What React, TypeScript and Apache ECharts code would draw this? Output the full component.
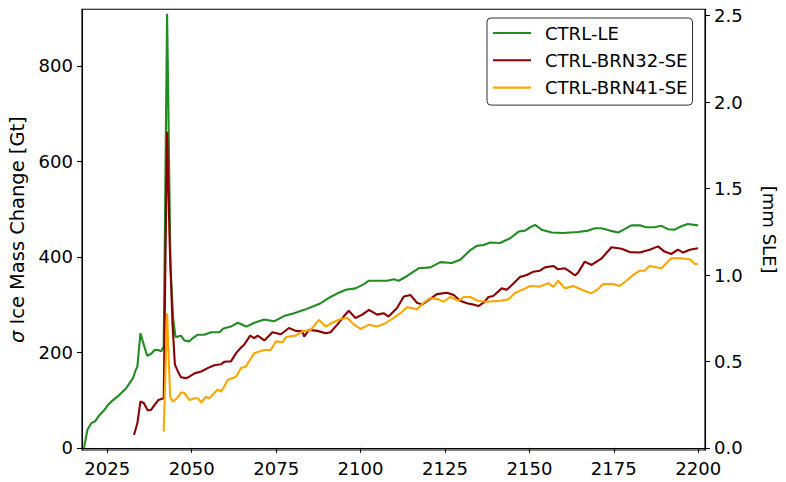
import React, { useEffect, useRef } from "react";
import * as echarts from "echarts";

// ---- data ----
const seriesNames = ["CTRL-LE", "CTRL-BRN32-SE", "CTRL-BRN41-SE"];
const seriesColors = ["#228B22", "#8B0000", "#FFA500"];

const leYears = [2018.1, 2019.1, 2020.3, 2021.3, 2022.7, 2024.2, 2025.2, 2026.7, 2028.6, 2030.6, 2032.6, 2033.4, 2033.9, 2034.8, 2035.5, 2036.8, 2038, 2039, 2040.1, 2040.9, 2041.7, 2042.7, 2043.7, 2044.5, 2045.2, 2045.9, 2046.8, 2047.8, 2049.3, 2050.3, 2051.8, 2053.7, 2055.7, 2058.2, 2059.4, 2061.6, 2063.6, 2066.2, 2068.5, 2071.5, 2074.4, 2077.3, 2080.3, 2083.3, 2086.2, 2088.2, 2091.1, 2093.6, 2095.6, 2098.5, 2101, 2102.5, 2104.9, 2107.9, 2109.8, 2111.3, 2113.8, 2115.7, 2117.2, 2120.7, 2123.6, 2127, 2129.5, 2132.5, 2134.4, 2136.4, 2138.4, 2141.3, 2144.3, 2146.8, 2148.7, 2150.2, 2151.7, 2153.6, 2156.6, 2160, 2164.4, 2167.4, 2169.4, 2171.3, 2173.8, 2176.3, 2178.2, 2180.2, 2182.7, 2184.6, 2187.1, 2189.1, 2191, 2193, 2195, 2196.9, 2199.9];
const leValues = [0, 38, 52, 55, 69, 80, 90, 100, 111, 125, 146, 163, 170, 240, 223, 193, 197, 205, 205, 202, 212, 909, 380, 270, 232, 233, 235, 225, 223, 230, 237, 237, 242, 242, 250, 254, 262, 254, 262, 269, 265, 276, 282, 289, 297, 303, 316, 325, 331, 334, 343, 350, 350, 350, 353, 350, 360, 369, 376, 378, 389, 387, 394, 414, 423, 425, 430, 429, 439, 453, 455, 462, 467, 457, 451, 450, 452, 455, 460, 460, 455, 451, 458, 466, 466, 462, 462, 465, 458, 457, 464, 469, 466];

const brn32Years = [2032.9, 2033.9, 2034.8, 2035.8, 2037, 2038, 2039, 2040.1, 2041.7, 2042.7, 2043.5, 2044.3, 2045, 2045.9, 2046.8, 2048.3, 2049.3, 2050.8, 2052.8, 2054.7, 2056.7, 2058.7, 2059.6, 2060.6, 2061.6, 2063.3, 2064.6, 2065.5, 2067.3, 2068.5, 2069.5, 2071.5, 2073.9, 2076.4, 2078.8, 2080.8, 2082.8, 2083.3, 2084.7, 2087.2, 2089.7, 2091.1, 2093.1, 2095, 2096.5, 2098.5, 2100.5, 2102.5, 2104.9, 2106.8, 2108.3, 2110.8, 2112.8, 2114.8, 2116.7, 2118.2, 2120.2, 2122.6, 2125.6, 2127.6, 2129.5, 2131.5, 2133.4, 2134.9, 2136.4, 2137.9, 2139.3, 2141.8, 2143.3, 2144.8, 2147.2, 2149.2, 2151.2, 2153.1, 2154.6, 2157.1, 2158.5, 2160.5, 2162, 2163.5, 2164.4, 2166.4, 2168.4, 2171.4, 2172.8, 2174.3, 2177.3, 2179.7, 2182.7, 2185.6, 2188.1, 2190, 2192, 2194, 2195.5, 2197.5, 2199.9];
const brn32Values = [27, 52, 97, 94, 78, 80, 90, 100, 104, 662, 420, 260, 175, 160, 148, 146, 149, 156, 160, 167, 173, 175, 180, 181, 181, 200, 210, 216, 235, 230, 235, 225, 242, 238, 251, 245, 244, 233, 247, 245, 240, 242, 258, 275, 287, 272, 279, 289, 279, 282, 275, 293, 317, 320, 304, 300, 310, 322, 325, 320, 308, 303, 300, 297, 304, 316, 318, 334, 331, 341, 358, 362, 369, 371, 378, 381, 374, 376, 369, 361, 367, 390, 383, 397, 408, 420, 417, 410, 409, 415, 422, 411, 406, 415, 409, 415, 418];

const brn41Years = [2041.7, 2042.7, 2043.6, 2044.4, 2045.7, 2046.8, 2047.8, 2049.3, 2050.8, 2051.8, 2052.8, 2054.2, 2055.2, 2056.2, 2057.7, 2058.7, 2059.6, 2060.6, 2063.1, 2064.6, 2066, 2068.5, 2070, 2071.5, 2073.4, 2074.9, 2076.9, 2077.9, 2080.8, 2082.8, 2085.2, 2087.7, 2089.7, 2091.6, 2094.1, 2096.1, 2098.1, 2100, 2102.5, 2104.9, 2107.4, 2109.8, 2111.8, 2113.8, 2116.7, 2118.7, 2120.7, 2123.1, 2124.6, 2126.6, 2129, 2130.5, 2132.5, 2134.7, 2137.4, 2141.3, 2143.8, 2145.8, 2148.2, 2150.2, 2153.1, 2155.6, 2157.1, 2158.5, 2160.5, 2163, 2166.9, 2168.4, 2170.3, 2171.8, 2174.8, 2176.7, 2178.7, 2180.7, 2182.7, 2184.1, 2185.6, 2189.1, 2192, 2195, 2197.5, 2199, 2199.9];
const brn41Values = [34, 282, 107, 97, 104, 116, 115, 100, 104, 104, 95, 107, 104, 111, 122, 118, 128, 142, 149, 167, 170, 198, 202, 205, 205, 223, 221, 232, 235, 244, 247, 268, 254, 262, 270, 272, 258, 249, 258, 254, 261, 272, 282, 295, 290, 304, 314, 311, 306, 316, 308, 316, 316, 308, 306, 308, 311, 325, 332, 339, 338, 345, 337, 350, 334, 339, 327, 324, 332, 343, 343, 339, 350, 362, 371, 371, 381, 376, 397, 397, 395, 385, 385];

const xTicks = [2025, 2050, 2075, 2100, 2125, 2150, 2175, 2200];
const leftTicks = [0, 200, 400, 600, 800];
const rightTicks = [0, 0.5, 1.0, 1.5, 2.0, 2.5];
const GT_PER_MM = 362;

const FONT = "DejaVu Sans";
const FS = 18.06;
const FS_LABEL = 19.44;

function pairs(xs: number[], ys: number[]) {
  return xs.map((x, i) => [x, ys[i]]);
}

export default function App() {
  const ref = useRef<HTMLDivElement>(null);
  useEffect(() => {
    if (!ref.current) return;
    const chart = echarts.init(ref.current, null, { renderer: "svg" });
    const yMin = -4.5;
    const yMax = 918.5;
    const dataSets = [
      pairs(leYears, leValues),
      pairs(brn32Years, brn32Values),
      pairs(brn41Years, brn41Values),
    ];
    const axisCommon = {
      axisLine: { show: true, lineStyle: { color: "#000", width: 1.1 } },
      axisTick: { show: true, inside: false, length: 5, lineStyle: { color: "#000", width: 1.1 } },
      splitLine: { show: false },
    };
    chart.setOption({
      animation: false,
      backgroundColor: "#fff",
      textStyle: { fontFamily: FONT },
      grid: {
        left: 80.7,
        right: 81,
        top: 9.3,
        bottom: 32,
        show: true,
        borderColor: "#000",
        borderWidth: 1.1,
        backgroundColor: "transparent",
        containLabel: false,
      },
      legend: {
        orient: "vertical",
        left: 487,
        top: 18,
        padding: [4.5, 5, 7, 6],
        icon: "rect",
        itemWidth: 38,
        itemHeight: 2.1,
        itemGap: 6.3,
        backgroundColor: "rgba(255,255,255,0.8)",
        borderColor: "#333",
        borderWidth: 1,
        borderRadius: 4,
        textStyle: {
          fontFamily: FONT,
          fontSize: FS,
          color: "#000",
          lineHeight: 21,
          padding: [0, 0, 0, 9],
        },
        data: seriesNames,
      },
      xAxis: {
        type: "value",
        min: 2017.5,
        max: 2202,
        ...axisCommon,
        axisTick: { ...axisCommon.axisTick, customValues: xTicks },
        axisLabel: {
          customValues: xTicks,
          color: "#000",
          fontFamily: FONT,
          fontSize: FS,
          margin: 9,
          formatter: (v: number) => String(v),
        },
      },
      yAxis: [
        {
          type: "value",
          position: "left",
          min: yMin,
          max: yMax,
          ...axisCommon,
          axisTick: { ...axisCommon.axisTick, customValues: leftTicks },
          axisLabel: {
            customValues: leftTicks,
            color: "#000",
            fontFamily: FONT,
            fontSize: FS,
            margin: 9,
            formatter: (v: number) => String(v),
          },
          name: "{i|σ} Ice Mass Change [Gt]",
          nameLocation: "middle",
          nameRotate: 90,
          nameGap: 55,
          nameTextStyle: {
            color: "#000",
            fontFamily: FONT,
            fontSize: FS_LABEL,
            rich: {
              i: { fontStyle: "italic", fontFamily: FONT, fontSize: FS_LABEL, color: "#000" },
            },
          },
        },
        {
          type: "value",
          position: "right",
          min: yMin / GT_PER_MM,
          max: yMax / GT_PER_MM,
          ...axisCommon,
          axisTick: { ...axisCommon.axisTick, customValues: rightTicks },
          axisLabel: {
            customValues: rightTicks,
            color: "#000",
            fontFamily: FONT,
            fontSize: FS,
            margin: 9,
            formatter: (v: number) => v.toFixed(1),
          },
          name: "[mm SLE]",
          nameLocation: "middle",
          nameRotate: -90,
          nameGap: 55,
          nameTextStyle: { color: "#000", fontFamily: FONT, fontSize: FS },
        },
      ],
      series: seriesNames.map((name, i) => ({
        name,
        type: "line",
        yAxisIndex: 0,
        data: dataSets[i],
        symbol: "none",
        showSymbol: false,
        smooth: false,
        clip: true,
        color: seriesColors[i],
        lineStyle: { color: seriesColors[i], width: 2.1 },
        z: 2 + i,
      })),
    });
    return () => chart.dispose();
  }, []);
  return (
    <div
      ref={ref}
      style={{ position: "fixed", left: 0, top: 0, width: 786, height: 482 }}
    />
  );
}
